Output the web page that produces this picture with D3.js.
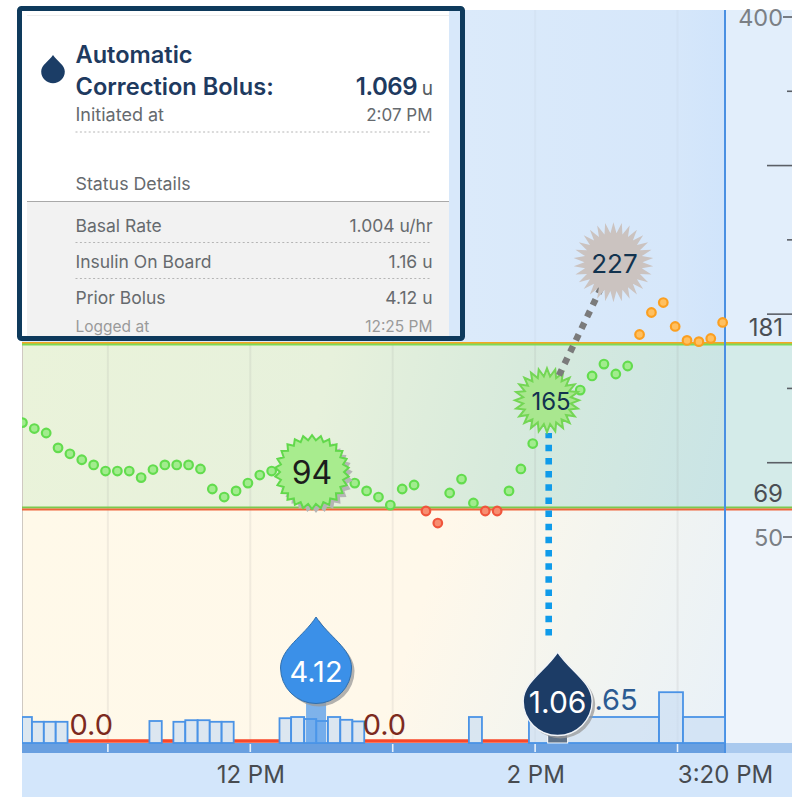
<!DOCTYPE html>
<html><head><meta charset="utf-8">
<script src="https://cdn.jsdelivr.net/npm/d3@7/dist/d3.min.js"></script>
<style>html,body{margin:0;padding:0;background:#fff}svg{display:block}text{font-family:Inter,"Noto Sans",sans-serif}</style>
</head><body><svg id="c" width="792" height="797"></svg>
<script>
// minutes relative to 12 PM
const glucoseTimes=[-96,-91,-86,-81,-76,-71,-66,-61,-56,-51,-46,-41,-36,-31,-26,-21,-16,-11,-6,-1,4,9,44,49,54,59,64,69,74,79,84,89,94,99,104,109,114,119,139,144,149,154,159,164,169,174,179,184,189,194,199];
const glucoseValues=[127,123,120,110,106,102,98.5,94.4,94.4,94.4,90,95.4,98.5,98.5,98.5,95.8,82.3,76.9,81,86.3,91.7,94.4,86.3,81,76.9,71.5,82.3,85,67.5,59.4,79.6,89,72.9,67.5,67.5,81,95.8,112.9,148.9,158.4,166.4,159.7,165.1,186.3,201.1,207.8,191.7,182.3,181.5,183.6,194.4];
const basalStart=[-96.2,-92,-87,-82,-77,-42.5,-37.3,-32.4,-27.4,-22.2,-17.1,-12.1,-7,12.3,17.2,22.7,27.8,32.7,37.9,43,48,92.1,97.6,117.4,172.2,182.3];
const basalEnd=[-92,-87,-82,-77,-42.5,-37.3,-32.4,-27.4,-22.2,-17.1,-12.1,-7,12.3,17.2,22.7,27.8,32.7,37.9,43,48,92.1,97.6,117.4,172.2,182.3,200];
const basalRate=[0.65,0.53,0.53,0.53,0,0.55,0,0.53,0.57,0.57,0.53,0.53,0,0.62,0.65,0.6,0.55,0.65,0.58,0.54,0,0.65,0,0.65,1.27,0.65];
const badgeTimes=[26,125,153];
const badgeLevels=[93.7,142,235];
const badgeLabels=["94","165","227"];
const bolusTimes=[27.7,129.5];
const bolusLabels=["4.12","1.06"];
const yTicks=[400,350,300,250,200,150,100,50];
const yLabels=[400,50];
const targetRange=[69,181];
const gridTimes=[-60,0,60,120,180];
const xTickTimes=[0,120,200];
const xTickLabels=["12 PM","2 PM","3:20 PM"];
const zeroLabels=[{t:-67,s:"0.0"},{t:56.5,s:"0.0"}];
const rateLabel={t:145,s:".65"};
const cardRows=[["Basal Rate","1.004 u/hr"],["Insulin On Board","1.16 u"],["Prior Bolus","4.12 u"]];

const x=d3.scaleLinear().domain([0,200]).range([250.3,725]);
const y=d3.scaleLinear().domain([50,400]).range([537,17]);
const rateY=d3.scaleLinear().domain([0,0.65]).range([743,717]);
const svg=d3.select("#c");
const defs=svg.append("defs");
function grad(id,stops,x1,y1,x2,y2){const g=defs.append("linearGradient").attr("id",id).attr("gradientUnits","userSpaceOnUse").attr("x1",x1).attr("y1",y1).attr("x2",x2).attr("y2",y2);
 stops.forEach(s=>g.append("stop").attr("offset",s[0]).attr("stop-color",s[1]));}
grad("band",[[0,"#eaf3da"],[0.42,"#e7f1dc"],[0.68,"#d7eadc"],[1,"#c9e4e6"]],22,343,726,509);
grad("low",[[0,"#fff9e9"],[0.55,"#fff8ea"],[0.75,"#f4f5ef"],[1,"#e9f1f8"]],22,509,726,745);
grad("upper",[[0,"#dbeafa"],[0.8,"#d6e7fa"],[1,"#d0e4fb"]],465,10,726,10);
defs.append("clipPath").attr("id","plot").append("rect").attr("x",22).attr("y",0).attr("width",770).attr("height",797);
const rx=x(200),plotTop=10;
// backgrounds
svg.append("rect").attr("x",22).attr("y",plotTop).attr("width",rx-22).attr("height",y(181)-plotTop).attr("fill","url(#upper)");
svg.append("rect").attr("x",rx).attr("y",plotTop).attr("width",792-rx).attr("height",y(181)-plotTop).attr("fill","#e2eefb");
svg.append("rect").attr("x",22).attr("y",y(181)).attr("width",rx-22).attr("height",y(69)-y(181)).attr("fill","url(#band)");
svg.append("rect").attr("x",rx).attr("y",y(181)).attr("width",792-rx).attr("height",y(69)-y(181)).attr("fill","#d4ebe9");
svg.append("rect").attr("x",22).attr("y",y(69)).attr("width",rx-22).attr("height",743-y(69)).attr("fill","url(#low)");
svg.append("rect").attr("x",rx).attr("y",y(69)).attr("width",792-rx).attr("height",743-y(69)).attr("fill","#eef4fb");
svg.append("rect").attr("x",22).attr("y",753).attr("width",770).attr("height",44).attr("fill","#d3e6fb");
svg.append("line").attr("x1",22.5).attr("x2",22.5).attr("y1",343).attr("y2",743).attr("stroke","#cfc9c2").attr("stroke-width",1);
// grid
svg.selectAll(".gridTop").data(gridTimes).join("line").attr("x1",d=>x(d)).attr("x2",d=>x(d)).attr("y1",plotTop).attr("y2",343).attr("stroke","#8a8a8a").attr("stroke-opacity",.05).attr("stroke-width",2);
svg.selectAll(".grid").data(gridTimes).join("line").attr("x1",d=>x(d)).attr("x2",d=>x(d)).attr("y1",343).attr("y2",743).attr("stroke","#8a8a8a").attr("stroke-opacity",.12).attr("stroke-width",2);
// strip
svg.append("rect").attr("x",22).attr("y",743).attr("width",rx-22).attr("height",10).attr("fill","#689fe0");
svg.append("rect").attr("x",rx).attr("y",743).attr("width",792-rx).attr("height",10).attr("fill","#a9c9ee");
svg.selectAll(".tk").data(gridTimes).join("line").attr("x1",d=>x(d)).attr("x2",d=>x(d)).attr("y1",744).attr("y2",752).attr("stroke","#e8f1fb").attr("stroke-width",1.6);
// range lines
[[181,"#f5a623",0.6],[181,"#7ed957",2.1],[69,"#7cc94e",-1.2],[69,"#f0653a",0.7]].forEach(r=>{
 svg.append("line").attr("x1",22).attr("x2",792).attr("y1",y(r[0])+r[2]).attr("y2",y(r[0])+r[2]).attr("stroke",r[1]).attr("stroke-width",1.9);});
// now line
svg.append("line").attr("x1",rx).attr("x2",rx).attr("y1",plotTop).attr("y2",753).attr("stroke","#4a90e2").attr("stroke-width",2);
// basal
const basal=basalStart.map((s,i)=>({s,e:basalEnd[i],r:basalRate[i]}));
svg.selectAll(".zero").data(basal.filter(d=>d.r===0)).join("line").attr("x1",d=>x(d.s)).attr("x2",d=>x(d.e)).attr("y1",741).attr("y2",741).attr("stroke","#f9482a").attr("stroke-width",3.6);
svg.selectAll(".bar").data(basal.filter(d=>d.r>0)).join("rect").attr("x",d=>x(d.s)).attr("width",d=>x(d.e)-x(d.s)).attr("y",d=>rateY(d.r)).attr("height",d=>743-rateY(d.r)).attr("fill","#c6dbf3").attr("fill-opacity",.62).attr("stroke","#4a93e6").attr("stroke-width",1.8).attr("clip-path","url(#plot)");
svg.selectAll(".zl").data(zeroLabels).join("text").attr("x",d=>x(d.t)).attr("y",735).attr("text-anchor","middle").attr("font-size",29).attr("fill","#7c2a1e").text(d=>d.s);
svg.append("text").attr("x",x(rateLabel.t)).attr("y",710).attr("font-size",29).attr("fill","#2c5b92").text(rateLabel.s);
// glucose dots
const colr=v=>v<targetRange[0]?["#f0553c","#f78d70"]:v>targetRange[1]?["#fb9f20","#ffc060"]:["#63dc4e","#a2ec8e"];
svg.append("g").attr("clip-path","url(#plot)").selectAll(".dot").data(glucoseTimes.map((t,i)=>({t,v:glucoseValues[i]}))).join("circle").attr("cx",d=>x(d.t)).attr("cy",d=>y(d.v)).attr("r",4.3).attr("fill",d=>colr(d.v)[1]).attr("stroke",d=>colr(d.v)[0]).attr("stroke-width",2.2);
// bolus link
const bP=badgeTimes.map((t,i)=>[x(t),y(badgeLevels[i])]);
svg.append("line").attr("x1",548.7).attr("x2",548.7).attr("y1",635.4).attr("y2",433).attr("stroke","#0f9bea").attr("stroke-width",6.6).attr("stroke-dasharray","6.5 6.65");
// starburst
function burst(n,R,r){const p=[];for(let i=0;i<n*2;i++){const a=Math.PI*i/n-Math.PI/2,q=i%2?r:R;p.push([q*Math.cos(a),q*Math.sin(a)]);}return "M"+p.map(a=>a.map(v=>v.toFixed(2)).join(",")).join("L")+"Z";}
const bs=[{n:26,R:37,r:32,f:"#a8ec8e",s:"#62d84c",sw:2,tc:"#1c1c1c",fs:32,sh:1,dx:0,dy:0},{n:24,R:32,r:24,f:"#a9e78f",s:"#74d655",sw:2,tc:"#12334f",fs:24,sh:0,dx:4,dy:1},{n:30,R:40,r:29,f:"#cbc3c0",s:"none",sw:0,tc:"#12334f",fs:26,sh:0,dx:1,dy:1.5}];
function drawBurst(i){const b=bs[i],g=svg.append("g").attr("transform",`translate(${bP[i][0]},${bP[i][1]})`);
 if(b.sh)g.append("path").attr("d",burst(b.n,b.R,b.r)).attr("transform","translate(4,4)").attr("fill","#b5b5b5");
 g.append("path").attr("d",burst(b.n,b.R,b.r)).attr("fill",b.f).attr("stroke",b.s).attr("stroke-width",b.sw);
 g.append("text").attr("text-anchor","middle").attr("x",b.dx).attr("y",b.fs*.36+b.dy).attr("font-size",b.fs).attr("fill",b.tc).text(badgeLabels[i]);}
drawBurst(0);drawBurst(1);
const k=.18;
svg.append("line").attr("x1",bP[1][0]+(bP[2][0]-bP[1][0])*k).attr("y1",bP[1][1]+(bP[2][1]-bP[1][1])*k).attr("x2",bP[2][0]).attr("y2",bP[2][1]).attr("stroke","#7b7b7b").attr("stroke-width",6.5).attr("stroke-dasharray","6.5 6.5");
drawBurst(2);
// drops
function drop(cx,tip,cy,r){return `M${cx},${tip}C${cx+.35*r},${tip+.38*(cy-tip)} ${cx+r},${cy-.55*r} ${cx+r},${cy}A${r},${r} 0 1 1 ${cx-r},${cy}C${cx-r},${cy-.55*r} ${cx-.35*r},${tip+.38*(cy-tip)} ${cx},${tip}Z`;}
const bx0=x(bolusTimes[0]),bx1=x(bolusTimes[1]);
svg.append("rect").attr("x",bx0-10).attr("y",695).attr("width",20).attr("height",48).attr("fill","#4c97ea").attr("fill-opacity",.72);
svg.append("path").attr("d",drop(bx0,617,668,35.5)).attr("transform","translate(3,3)").attr("fill","#9a9a9a").attr("fill-opacity",.75);
svg.append("path").attr("d",drop(bx0,617,668,35.5)).attr("fill","#3b90e8").attr("stroke","#2f6fae").attr("stroke-width",1);
svg.append("text").attr("x",bx0).attr("y",682).attr("text-anchor","middle").attr("font-size",29).attr("fill","#fff").text(bolusLabels[0]);
svg.append("rect").attr("x",bx1-10).attr("y",732).attr("width",20).attr("height",11).attr("fill","#5f7288").attr("stroke","#fff").attr("stroke-width",1);
svg.append("path").attr("d",drop(bx1,652,701,34.5)).attr("transform","translate(3,3)").attr("fill","#9a9a9a").attr("fill-opacity",.75);
svg.append("path").attr("d",drop(bx1,652,701,34.5)).attr("fill","#1c3c66").attr("stroke","#f1f4f8").attr("stroke-width",1.4);
svg.append("text").attr("x",bx1).attr("y",713).attr("text-anchor","middle").attr("font-size",30).attr("fill","#fff").text(bolusLabels[1]);
// y axis
const longTicks=new Set([300,200,100]);
svg.selectAll(".yt").data(yTicks).join("line").attr("x1",d=>longTicks.has(d)?767:(yLabels.includes(d)?783:787)).attr("x2",792).attr("y1",d=>y(d)).attr("y2",d=>y(d)).attr("stroke","#5b5f66").attr("stroke-width",1.6);
svg.selectAll(".yl").data(yLabels).join("text").attr("x",783).attr("y",d=>y(d)+9).attr("text-anchor","end").attr("font-size",23.5).attr("fill","#7b7f85").text(d=>d);
svg.selectAll(".yr").data(targetRange).join("text").attr("x",783).attr("y",d=>y(d)-6.5).attr("text-anchor","end").attr("font-size",24).attr("fill","#4a4e54").text(d=>d);
// x axis
const ax=svg.append("g").attr("transform","translate(0,753)").call(d3.axisBottom(x).tickValues(xTickTimes).tickFormat((d,i)=>xTickLabels[i]).tickSize(0));
ax.select(".domain").remove();
ax.selectAll("text").attr("y",0).attr("dy",29.5).attr("font-size",24).attr("fill","#474b50").attr("font-family","Inter,sans-serif");
// card
const card=svg.append("g");
card.append("rect").attr("x",20).attr("y",9).attr("width",442).attr("height",329).attr("fill","#fff");
card.append("rect").attr("x",449).attr("y",9).attr("width",13).attr("height",329).attr("fill","#d8e8fa");
card.append("rect").attr("x",27).attr("y",202).attr("width",422).attr("height",134).attr("fill","#f2f2f2");
card.append("line").attr("x1",27).attr("x2",449).attr("y1",201.5).attr("y2",201.5).attr("stroke","#a9a9a9").attr("stroke-width",1.2);
card.append("line").attr("x1",27).attr("x2",449).attr("y1",15.5).attr("y2",15.5).attr("stroke","#eeeeee").attr("stroke-width",1);
card.append("rect").attr("x",19.5).attr("y",8.5).attr("width",443).attr("height",330).attr("rx",2).attr("fill","none").attr("stroke","#0e3a5c").attr("stroke-width",5);
card.append("path").attr("d",drop(53,55,71.5,11.8)).attr("fill","#1b3d66");
const T=(s,xx,yy,fs,col,a,w)=>card.append("text").attr("x",xx).attr("y",yy).attr("font-size",fs).attr("fill",col).attr("text-anchor",a||"start").attr("font-weight",w||400).text(s);
T("Automatic",75.5,63,23.6,"#1e3a5f","start",600);
T("Correction Bolus:",75.5,94.5,23.6,"#1e3a5f","start",600);
T("1.069",417,95,24,"#1e3a5f","end",600).attr("letter-spacing",-0.5);
T("u",433,95,19,"#555c63","end");
T("Initiated at",75.5,121,18,"#666a6e");
T("2:07 PM",432.5,121,17,"#666a6e","end");
T("Status Details",75.5,190,17.8,"#666a6e");
[132,242.5,278.5].forEach(d=>card.append("line").attr("x1",75.5).attr("x2",430).attr("y1",d).attr("y2",d).attr("stroke","#b5b5b5").attr("stroke-width",1).attr("stroke-dasharray","2 2.4"));
[231.7,267.7,303.7].forEach((yy,i)=>{T(cardRows[i][0],75.5,yy,17.5,"#666a6e");T(cardRows[i][1],432.5,yy,17.5,"#666a6e","end");});
T("Logged at",75.5,331.5,15.5,"#9a9a9a");
T("12:25 PM",432.5,331.5,15.5,"#9a9a9a","end");
</script></body></html>
